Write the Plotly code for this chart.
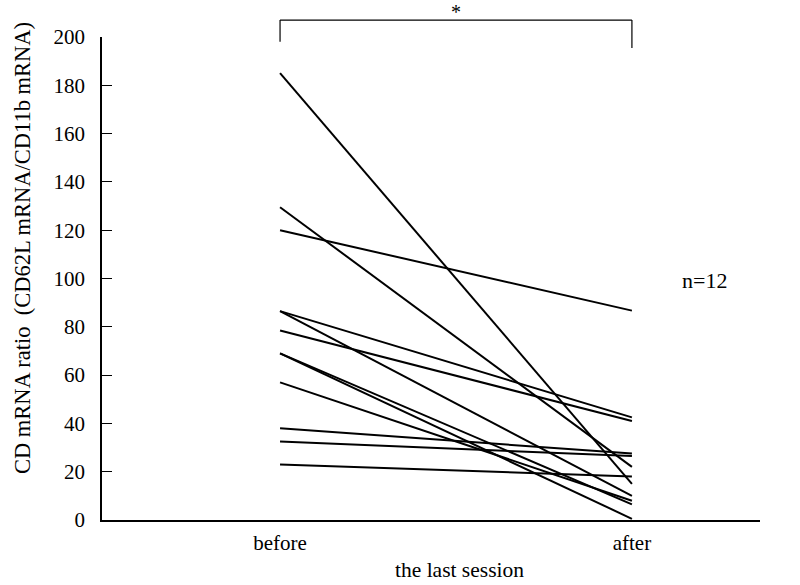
import plotly.graph_objects as go

categories = ["before", "after"]
before = [185, 129.5, 120, 86.5, 78.5, 86.5, 69, 69, 57, 38, 32.5, 23]
after = [15, 22, 86.7, 42.5, 41, 10, 6.5, 0.5, 8, 27.5, 26.5, 18]
y_ticks = [0, 20, 40, 60, 80, 100, 120, 140, 160, 180, 200]

FONT = "Liberation Serif"

fig = go.Figure()
for b, a in zip(before, after):
    fig.add_trace(go.Scatter(
        x=[0, 1], y=[b, a], mode="lines",
        line=dict(color="black", width=2),
        showlegend=False, hoverinfo="skip",
    ))

fig.update_layout(
    width=800, height=585,
    margin=dict(l=102, r=40, t=37, b=65),
    paper_bgcolor="white", plot_bgcolor="white",
    font=dict(family=FONT, size=21, color="black"),
    showlegend=False,
)
fig.update_xaxes(
    range=[-0.506, 1.364],
    tickmode="array", tickvals=[0, 1], ticktext=categories,
    ticks="", showgrid=False, zeroline=False,
    showline=True, linecolor="black", linewidth=1.5,
    tickfont=dict(family=FONT, size=21),
    ticklabelstandoff=3,
)
fig.update_yaxes(
    range=[0, 200],
    tickmode="array", tickvals=y_ticks,
    ticks="inside", ticklen=10, tickcolor="black", tickwidth=1,
    showgrid=False, zeroline=False,
    showline=True, linecolor="black", linewidth=1.5,
    tickfont=dict(family=FONT, size=21),
    ticklabelstandoff=11,
)

# y-axis title
fig.add_annotation(
    text="CD mRNA ratio  (CD62L mRNA/CD11b mRNA)",
    xref="paper", yref="paper", x=-0.1216, y=0.563,
    xanchor="center", yanchor="middle", textangle=-90,
    showarrow=False, font=dict(family=FONT, size=22.5),
)
# x-axis title
fig.add_annotation(
    text="the last session",
    xref="paper", yref="paper", x=0.544, y=-0.104,
    xanchor="center", yanchor="middle",
    showarrow=False, font=dict(family=FONT, size=21.5),
)
# n=12
fig.add_annotation(
    text="n=12", xref="paper", yref="y", x=0.915, y=99,
    xanchor="center", yanchor="middle",
    showarrow=False, font=dict(family=FONT, size=22),
)
# significance bracket
fig.add_shape(type="line", xref="x", yref="paper", x0=0, x1=1, y0=1.035, y1=1.035,
              line=dict(color="black", width=1.2))
fig.add_shape(type="line", xref="x", yref="paper", x0=0, x1=0, y0=1.035, y1=0.99,
              line=dict(color="black", width=1.2))
fig.add_shape(type="line", xref="x", yref="paper", x0=1, x1=1, y0=1.035, y1=0.977,
              line=dict(color="black", width=1.2))
fig.add_annotation(
    text="*", xref="x", yref="paper", x=0.5, y=1.052,
    xanchor="center", yanchor="middle",
    showarrow=False, font=dict(family=FONT, size=20),
)

fig.write_html("out.html")
